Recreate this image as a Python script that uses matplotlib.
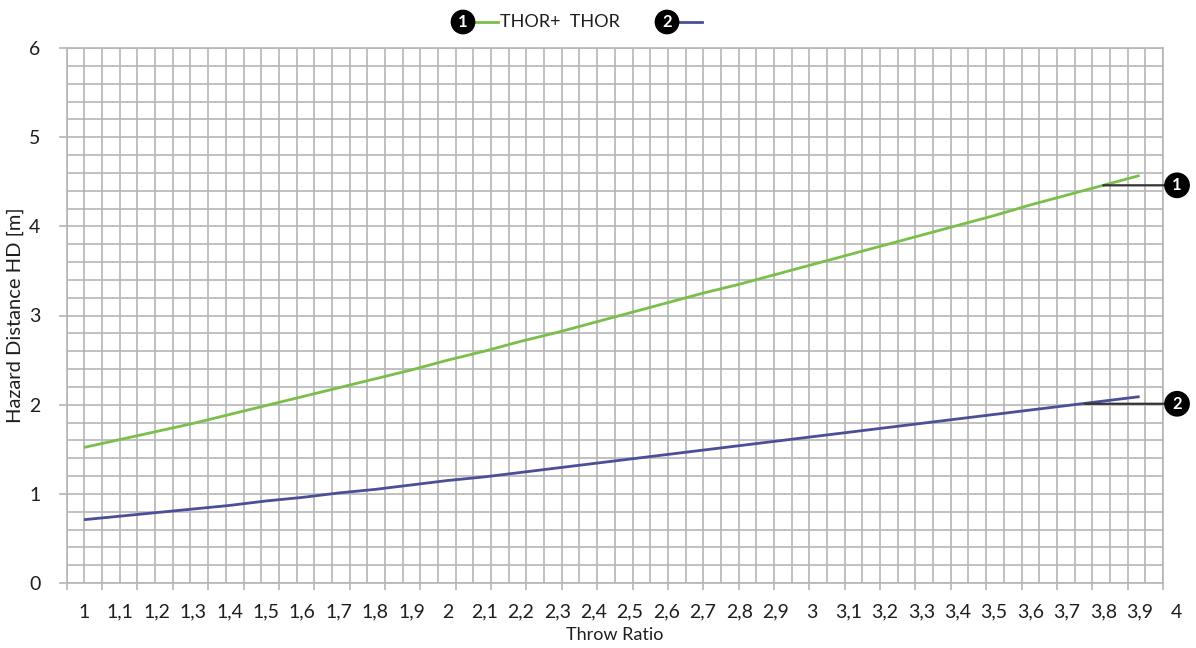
import numpy as np
import matplotlib
matplotlib.use("Agg")
import matplotlib.pyplot as plt
from matplotlib.lines import Line2D
from matplotlib.transforms import blended_transform_factory
from matplotlib.ticker import MultipleLocator, FixedLocator, NullFormatter

# ---- data ----
throw_ratio = [1.0, 1.1, 1.2, 1.3, 1.4, 1.5, 1.6, 1.7, 1.8, 1.9,
               2.0, 2.1, 2.2, 2.3, 2.4, 2.5, 2.6, 2.7, 2.8, 2.9,
               3.0, 3.1, 3.2, 3.3, 3.4, 3.5, 3.6, 3.7, 3.8, 3.9]
thor_plus = [1.52, 1.61, 1.70, 1.79, 1.89, 1.99, 2.09, 2.19, 2.29, 2.39,
             2.50, 2.60, 2.71, 2.81, 2.92, 3.03, 3.14, 3.25, 3.35, 3.46,
             3.57, 3.68, 3.79, 3.90, 4.01, 4.12, 4.24, 4.35, 4.46, 4.57]
thor = [0.71, 0.75, 0.79, 0.83, 0.87, 0.92, 0.96, 1.01, 1.05, 1.10,
        1.15, 1.19, 1.24, 1.29, 1.34, 1.39, 1.44, 1.49, 1.54, 1.59,
        1.64, 1.69, 1.74, 1.79, 1.84, 1.89, 1.94, 1.99, 2.04, 2.09]
x_tick_values = [1.0, 1.1, 1.2, 1.3, 1.4, 1.5, 1.6, 1.7, 1.8, 1.9,
                 2.0, 2.1, 2.2, 2.3, 2.4, 2.5, 2.6, 2.7, 2.8, 2.9,
                 3.0, 3.1, 3.2, 3.3, 3.4, 3.5, 3.6, 3.7, 3.8, 3.9, 4.0]
x_tick_labels = ["1", "1,1", "1,2", "1,3", "1,4", "1,5", "1,6", "1,7", "1,8", "1,9",
                 "2", "2,1", "2,2", "2,3", "2,4", "2,5", "2,6", "2,7", "2,8", "2,9",
                 "3", "3,1", "3,2", "3,3", "3,4", "3,5", "3,6", "3,7", "3,8", "3,9", "4"]
y_ticks = [0, 1, 2, 3, 4, 5, 6]
series_names = ["THOR+  THOR", ""]
callout_x = [3.8, 3.75]
callout_y = [4.46, 2.01]

GREEN = "#79bf4a"
BLUE = "#4a4f98"
GRID = "#b5b5b5"
TXT = "#1e1e1e"
FONT = "Lato"
FS_TICK = 14
FS_LAB = 13
FS_YLAB = 14.5
FS_LEG = 13

plt.rcParams['font.family'] = [FONT, 'DejaVu Sans']

fig = plt.figure(figsize=(11.96, 6.48), dpi=100)
rect = [66.7 / 1196, 65 / 648, 1096.3 / 1196, 535 / 648]

# background grid axes (category style: 31 cells, grid at edges and centres)
ax_g = fig.add_axes(rect)
n_cells = len(x_tick_values)
ax_g.set_xlim(0, n_cells)
ax_g.set_ylim(0, 6)
ax_g.xaxis.set_major_locator(MultipleLocator(1))
ax_g.xaxis.set_minor_locator(MultipleLocator(0.5))
ax_g.xaxis.set_major_formatter(NullFormatter())
ax_g.yaxis.set_major_locator(FixedLocator(y_ticks))
ax_g.yaxis.set_minor_locator(MultipleLocator(0.2))
ax_g.set_yticklabels([str(v) for v in y_ticks], fontsize=FS_TICK, color=TXT)
ax_g.tick_params(axis='x', which='major', length=5, color=GRID, width=1.2, direction='out')
ax_g.tick_params(axis='x', which='minor', length=0)
ax_g.tick_params(axis='y', which='major', length=6, color=GRID, width=1.2, pad=13)
ax_g.tick_params(axis='y', which='minor', length=0)
ax_g.grid(True, which='both', color=GRID, linewidth=1.2)
ax_g.set_axisbelow(True)
for s in ax_g.spines.values():
    s.set_color(GRID)
    s.set_linewidth(1.2)
ax_g.set_ylabel("Hazard Distance HD [m]", fontsize=FS_YLAB, color=TXT)
ax_g.yaxis.set_label_coords(-0.039, 0.5)

# data axes
ax = fig.add_axes(rect, sharey=ax_g)
ax.patch.set_visible(False)
for s in ax.spines.values():
    s.set_visible(False)
ax.set_xlim(1 - 17.3 / 364, 1 + 1079 / 364)
ax.yaxis.set_visible(False)
ax.plot(throw_ratio, thor_plus, color=GREEN, linewidth=2.0, solid_capstyle='butt')
ax.plot(throw_ratio, thor, color=BLUE, linewidth=2.0, solid_capstyle='butt')

xmin, xmax = ax.get_xlim()
in_view = [(v, l) for v, l in zip(x_tick_values, x_tick_labels) if v <= xmax]
ax.set_xticks([v for v, _ in in_view])
ax.set_xticklabels([l for _, l in in_view], fontsize=FS_TICK, color=TXT)
ax.tick_params(axis='x', length=0, pad=15)
bt = blended_transform_factory(ax.transData, ax.transAxes)
for v, l in zip(x_tick_values, x_tick_labels):
    if v > xmax:
        ax.text(v, -15 * 1.389 / 535, l, transform=bt, fontsize=FS_TICK, color=TXT,
                ha='center', va='top', clip_on=False)
ax.set_xlabel("Throw Ratio", fontsize=FS_LAB, color=TXT)
ax.xaxis.set_label_coords(0.5, -0.083)
ax.xaxis.label.set_va('top')

# callouts
ct = blended_transform_factory(ax.transAxes, ax.transData)
for i, (cx, cy) in enumerate(zip(callout_x, callout_y)):
    ax.annotate(str(i + 1), xy=(cx, cy), xycoords='data',
                xytext=(1.0128, cy), textcoords=ct,
                ha='center', va='center', fontsize=12, fontweight='bold', color='white',
                bbox=dict(boxstyle='circle,pad=0.25', fc='black', ec='black'),
                arrowprops=dict(arrowstyle='-', color='#333333', lw=1.6,
                                shrinkA=0, shrinkB=0),
                annotation_clip=False)

# top legend
def fx(px):
    return px / 1196
def fy(py):
    return 1 - py / 648
ly = 22
fig.text(fx(463), fy(ly), "1", ha='center', va='center', fontsize=12, fontweight='bold',
         color='white', bbox=dict(boxstyle='circle,pad=0.22', fc='black', ec='black'))
fig.add_artist(Line2D([fx(474), fx(498)], [fy(ly), fy(ly)], color=GREEN, lw=2.0))
fig.text(fx(500), fy(ly), series_names[0], ha='left', va='center', fontsize=FS_LEG, color=TXT)
fig.text(fx(667), fy(ly), "2", ha='center', va='center', fontsize=12, fontweight='bold',
         color='white', bbox=dict(boxstyle='circle,pad=0.22', fc='black', ec='black'))
fig.add_artist(Line2D([fx(678), fx(702)], [fy(ly), fy(ly)], color=BLUE, lw=2.0))

fig.savefig("out.png", dpi=100, facecolor='white')
